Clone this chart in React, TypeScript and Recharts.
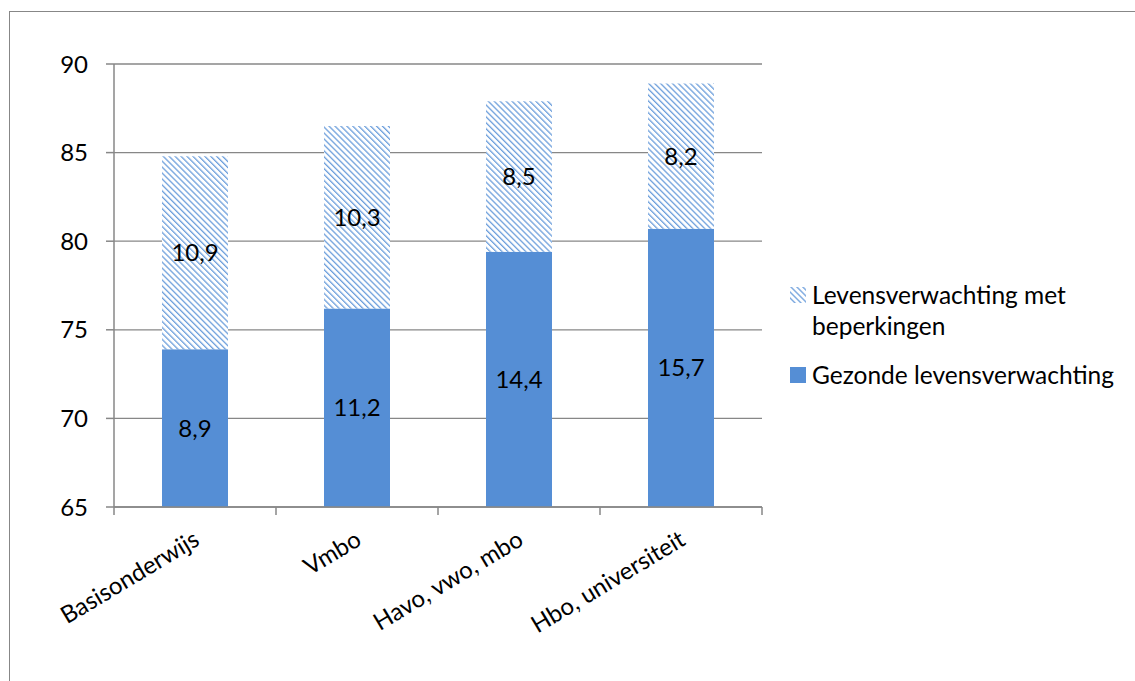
import { BarChart, Bar, XAxis, YAxis, CartesianGrid, LabelList } from "recharts";

const categories = ["Basisonderwijs", "Vmbo", "Havo, vwo, mbo", "Hbo, universiteit"];
const startAge = 65;
const gezond = [8.9, 11.2, 14.4, 15.7];
const beperkingen = [10.9, 10.3, 8.5, 8.2];
const yTicks = [65, 70, 75, 80, 85, 90];

const data = categories.map((name, i) => ({
  name,
  basis: startAge,
  gezond: gezond[i],
  beperkingen: beperkingen[i],
}));

const BLUE = "#558ed5";
const GRAY = "#878787";
const FONT = "Lato, 'Open Sans', sans-serif";

const fmt = (v: any) => String(v).replace(".", ",");

const XTick = (props: any) => {
  const { x, y, payload, index } = props;
  const half = 81; // half category width
  const tx = x + 6;
  const ty = y + 29;
  return (
    <g>
      <line x1={x - half} x2={x - half} y1={y - 8} y2={y} stroke={GRAY} strokeWidth={1.5} />
      {index === categories.length - 1 && (
        <line x1={x + half} x2={x + half} y1={y - 8} y2={y} stroke={GRAY} strokeWidth={1.5} />
      )}
      <text
        x={tx}
        y={ty}
        transform={`rotate(-31, ${tx}, ${ty})`}
        textAnchor="end"
        fontSize={24}
        fontFamily={FONT}
        fill="#000"
      >
        {payload.value}
      </text>
    </g>
  );
};

const LegendBox = () => (
  <div style={{ position: "absolute", left: 790, top: 279, fontFamily: FONT, fontSize: 24.5, color: "#000", lineHeight: "31px" }}>
    <div style={{ display: "flex", alignItems: "flex-start", marginBottom: 18 }}>
      <svg width={16} height={16} style={{ marginTop: 8, marginRight: 6, flexShrink: 0 }}>
        <rect width={16} height={16} fill="url(#hatch)" />
      </svg>
      <span style={{ width: 280 }}>Levensverwachting met beperkingen</span>
    </div>
    <div style={{ display: "flex", alignItems: "flex-start" }}>
      <svg width={16} height={16} style={{ marginTop: 8, marginRight: 6, flexShrink: 0 }}>
        <rect width={16} height={16} fill={BLUE} />
      </svg>
      <span style={{ whiteSpace: "nowrap" }}>Gezonde levensverwachting</span>
    </div>
  </div>
);

export default function App() {
  return (
    <div style={{ position: "absolute", left: 0, top: 0, width: 1135, height: 681, overflow: "hidden", background: "#fff" }}>
      <div
        style={{
          position: "absolute",
          left: 9,
          top: 11,
          width: 1300,
          height: 900,
          borderLeft: `1.5px solid ${GRAY}`,
          borderTop: `1.5px solid ${GRAY}`,
        }}
      />
      <svg width={0} height={0} style={{ position: "absolute" }}>
        <defs>
          <pattern id="hatch" width={4.2} height={4.2} patternUnits="userSpaceOnUse" patternTransform="rotate(-45)">
            <rect width={4.2} height={4.2} fill="#fff" />
            <rect width={1.3} height={4.2} fill="#6d9fdc" />
          </pattern>
        </defs>
      </svg>
      <div style={{ position: "absolute", left: 0, top: 0 }}>
        <BarChart
          width={1135}
          height={681}
          data={data}
          margin={{ top: 64, right: 373, bottom: 144, left: 54 }}
          barCategoryGap={48}
        >
          <CartesianGrid vertical={false} stroke={GRAY} strokeWidth={1.3} />
          <YAxis
            domain={[65, 90]}
            ticks={yTicks}
            width={60}
            stroke={GRAY}
            strokeWidth={1.5}
            tickSize={8}
            tickMargin={18}
            tick={{ fill: "#000", fontSize: 24, fontFamily: FONT }}
            allowDataOverflow
          />
          <XAxis
            dataKey="name"
            height={30}
            stroke={GRAY}
            strokeWidth={1.5}
            tickLine={false}
            tickSize={8}
            tickMargin={0}
            interval={0}
            tick={<XTick />}
          />
          <Bar dataKey="basis" stackId="a" fill="none" isAnimationActive={false} legendType="none" />
          <Bar dataKey="gezond" stackId="a" fill={BLUE} isAnimationActive={false}>
            <LabelList dataKey="gezond" position="center" formatter={fmt} fill="#000" fontSize={24} fontFamily={FONT} />
          </Bar>
          <Bar dataKey="beperkingen" stackId="a" fill="url(#hatch)" isAnimationActive={false}>
            <LabelList dataKey="beperkingen" position="center" formatter={fmt} fill="#000" fontSize={24} fontFamily={FONT} />
          </Bar>
        </BarChart>
      </div>
      <LegendBox />
    </div>
  );
}
